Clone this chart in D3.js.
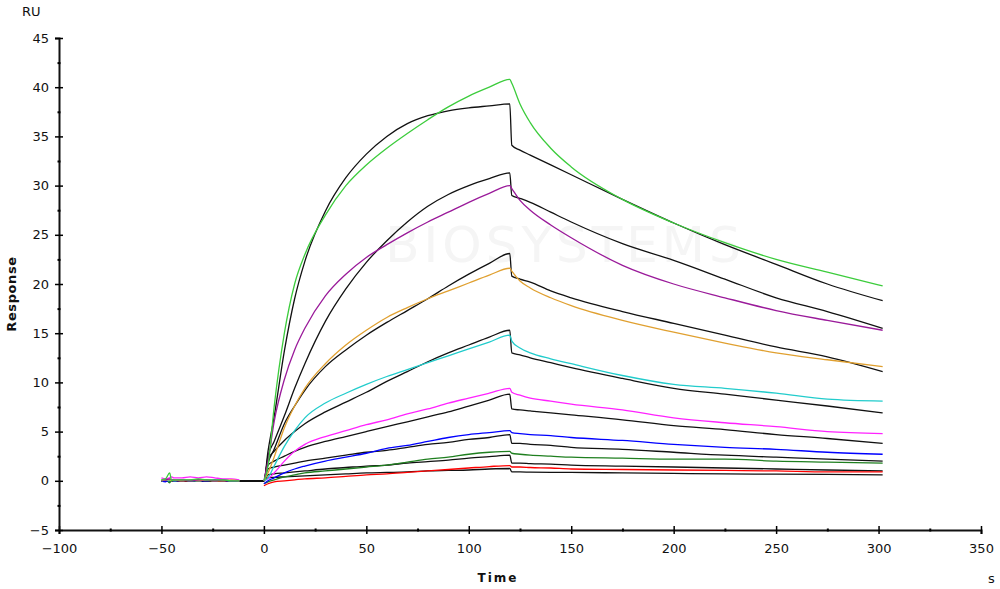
<!DOCTYPE html>
<html><head><meta charset="utf-8">
<script src="https://cdn.jsdelivr.net/npm/d3@7"></script>
<style>
body{margin:0;background:#fff}
svg{display:block}
text{font-family:"DejaVu Sans",Verdana,sans-serif}
</style></head>
<body><svg id="c" width="1000" height="589"></svg>
<script>
// ---------- DATA ----------
const xTicks = [-100,-50,0,50,100,150,200,250,300,350];
const yTicks = [-5,0,5,10,15,20,25,30,35,40,45];
const tBase  = [-50,-48,-46,-45,-44,-40,-36,-32,-28,-24,-20,-16,-12];
const tAssoc = [0,2,5,10,15,20,30,40,50,60,70,80,90,100,110,120];
const tDiss  = [121,125,130,140,150,175,200,225,250,275,302];

// measured responses (coloured)
const baseGreen   = [0.1,0.2,0.8,0.0,0.1,0.1,0.1,0.2,0.1,0.1,0.1,0.0,0.0];
const assocGreen  = [0,1.5,7.5,15.0,20.0,23.0,27.0,30.0,32.1,33.8,35.3,36.7,38.0,39.1,40.0,40.8];
const dissGreen   = [40.4,38.3,36.4,33.8,31.9,28.6,26.2,24.2,22.5,21.2,19.8];

const basePurple  = [0.1,0.1,0.2,0.1,0.1,0.1,0.0,0.1,0.1,0.0,0.1,0.0,0.0];
const assocPurple = [0,2.0,6.0,10.3,13.3,15.5,18.8,21.0,22.7,24.0,25.2,26.3,27.3,28.3,29.2,30.0];
const dissPurple  = [29.7,28.5,27.5,26.0,24.7,21.9,20.0,18.6,17.3,16.3,15.3];

const baseOrange  = [0.0,0.1,0.1,0.0,0.1,0.0,0.1,0.0,0.1,0.0,0.0,0.1,0.0];
const assocOrange = [0,0.8,2.4,5.4,7.6,9.4,11.9,13.8,15.3,16.6,17.6,18.5,19.3,20.1,20.9,21.6];
const dissOrange  = [21.3,20.3,19.6,18.6,17.8,16.3,15.1,14.0,13.0,12.3,11.6];

const baseCyan    = [0.0,0.1,0.0,0.1,0.0,0.1,0.0,0.0,0.1,0.0,0.1,0.0,0.0];
const assocCyan   = [0,0.3,1.5,3.5,5.1,6.4,7.9,8.9,9.8,10.6,11.3,12.0,12.7,13.4,14.1,14.8];
const dissCyan    = [14.2,13.5,13.0,12.4,11.9,10.7,9.8,9.4,8.9,8.3,8.1];

const baseMagenta = [0.3,0.2,0.3,0.4,0.3,0.3,0.4,0.3,0.4,0.3,0.2,0.2,0.1];
const assocMagenta= [0,0.2,0.8,2.0,3.0,3.7,4.5,5.1,5.7,6.2,6.8,7.3,7.9,8.4,8.9,9.4];
const dissMagenta = [9.0,8.7,8.4,8.1,7.8,7.2,6.4,5.9,5.5,5.0,4.8];

const baseBlue    = [0.0,-0.1,0.1,0.0,0.0,0.0,0.1,0.0,0.0,0.1,0.0,0.0,0.0];
const assocBlue   = [-0.3,0,0.3,0.8,1.2,1.5,2.0,2.4,2.8,3.3,3.6,4.0,4.4,4.7,4.9,5.1];
const dissBlue    = [4.9,4.8,4.7,4.6,4.4,4.1,3.7,3.4,3.2,2.9,2.7];

const baseDkGreen = [0.0,0.2,-0.2,0.1,0.0,0.1,0.0,0.1,0.0,0.0,0.1,0.0,0.0];
const assocDkGreen= [-0.3,-0.1,0.1,0.4,0.6,0.8,1.0,1.2,1.4,1.6,1.9,2.2,2.4,2.7,2.9,3.0];
const dissDkGreen = [2.8,2.7,2.6,2.5,2.4,2.3,2.2,2.2,2.0,1.9,1.8];

const baseRed     = [0.0,0.0,0.1,0.0,0.0,0.0,0.0,0.1,0.0,0.0,0.0,0.0,0.0];
const assocRed    = [-0.5,-0.3,-0.1,0.0,0.1,0.2,0.3,0.45,0.6,0.7,0.85,1.0,1.15,1.3,1.45,1.55];
const dissRed     = [1.4,1.4,1.35,1.3,1.2,1.15,1.1,1.05,1.0,0.9,0.9];

// fitted curves (black)
const fit1Assoc = [0,3.0,6.5,13.2,18.5,22.3,27.4,30.8,33.2,35.0,36.3,37.1,37.6,37.9,38.1,38.3];
const fit1Diss  = [34.1,33.6,33.1,32.1,31.1,28.6,26.2,24.0,22.0,20.0,18.3];
const fit2Assoc = [0,2.5,4.0,6.6,9.4,11.9,16.2,19.5,22.2,24.4,26.3,27.9,29.1,30.0,30.7,31.3];
const fit2Diss  = [29.0,28.7,28.3,27.3,26.3,24.1,22.4,20.5,18.6,17.2,15.5];
const fit3Assoc = [0,1.8,3.2,5.8,7.6,9.2,11.6,13.3,14.8,16.1,17.3,18.5,19.8,21.0,22.1,23.1];
const fit3Diss  = [20.8,20.5,20.2,19.3,18.6,17.2,16.0,14.8,13.6,12.6,11.1];
const fit4Assoc = [0,2.2,3.0,4.1,5.0,5.8,7.0,8.0,9.0,10.1,11.1,12.1,13.0,13.8,14.6,15.3];
const fit4Diss  = [13.0,12.8,12.5,12.0,11.5,10.4,9.4,8.8,8.2,7.6,6.9];
const fit5Assoc = [0,1.6,2.0,2.5,3.0,3.4,4.0,4.5,5.0,5.5,6.0,6.5,7.0,7.6,8.2,8.8];
const fit5Diss  = [7.3,7.2,7.1,6.9,6.7,6.2,5.6,5.2,4.7,4.3,3.8];
const fit6Assoc = [0,1.2,1.4,1.6,1.8,2.0,2.3,2.6,2.9,3.1,3.4,3.7,3.9,4.2,4.4,4.7];
const fit6Diss  = [3.8,3.8,3.7,3.6,3.4,3.2,2.9,2.6,2.4,2.2,2.0];
const fit7Assoc = [0,0.6,0.7,0.8,0.9,1.0,1.2,1.35,1.5,1.6,1.8,1.95,2.1,2.3,2.45,2.6];
const fit7Diss  = [1.8,1.8,1.75,1.7,1.6,1.5,1.4,1.3,1.2,1.1,1.0];
const fit8Assoc = [0,0.3,0.35,0.4,0.45,0.5,0.6,0.7,0.8,0.85,0.9,1.0,1.05,1.1,1.2,1.25];
const fit8Diss  = [0.9,0.9,0.88,0.86,0.85,0.8,0.75,0.7,0.68,0.65,0.6];

const measured = [
  {color:"#ff0000", base:baseRed, assoc:assocRed, diss:dissRed},
  {color:"#1f7f1f", base:baseDkGreen, assoc:assocDkGreen, diss:dissDkGreen},
  {color:"#0000ff", base:baseBlue, assoc:assocBlue, diss:dissBlue},
  {color:"#ff22ff", base:baseMagenta, assoc:assocMagenta, diss:dissMagenta},
  {color:"#22cccc", base:baseCyan, assoc:assocCyan, diss:dissCyan},
  {color:"#e0a030", base:baseOrange, assoc:assocOrange, diss:dissOrange},
  {color:"#9a1a9a", base:basePurple, assoc:assocPurple, diss:dissPurple},
  {color:"#3ccc3c", base:baseGreen, assoc:assocGreen, diss:dissGreen}
];
const fits = [
  [fit1Assoc,fit1Diss],[fit2Assoc,fit2Diss],[fit3Assoc,fit3Diss],[fit4Assoc,fit4Diss],
  [fit5Assoc,fit5Diss],[fit6Assoc,fit6Diss],[fit7Assoc,fit7Diss],[fit8Assoc,fit8Diss]
];

// ---------- CHART ----------
const svg = d3.select("#c");
const x = d3.scaleLinear().domain([-100,350]).range([59,981]);
const y = d3.scaleLinear().domain([-5,45]).range([530,38]);

// faint watermark
svg.append("text").attr("x",565).attr("y",262).attr("text-anchor","middle")
  .attr("font-size",50).attr("fill","#f5f5f5").attr("letter-spacing",4).text("BIOSYSTEMS");

const line = d3.line().x(d=>x(d[0])).y(d=>y(d[1])).curve(d3.curveMonotoneX);
const zip = (ts,vs)=>ts.map((t,i)=>[t,vs[i]]);

const plot = svg.append("g");
fits.forEach(f=>{
  const pts = [[-50,0]].concat(zip(tAssoc,f[0]), zip(tDiss,f[1]));
  plot.append("path").attr("d",line(pts)).attr("fill","none")
    .attr("stroke","#111").attr("stroke-width",1.3);
});
measured.forEach(m=>{
  plot.append("path").attr("d",line(zip(tBase,m.base))).attr("fill","none")
    .attr("stroke",m.color).attr("stroke-width",1.3);
  plot.append("path").attr("d",line(zip(tAssoc,m.assoc).concat(zip(tDiss,m.diss)))).attr("fill","none")
    .attr("stroke",m.color).attr("stroke-width",1.3);
});

// axes
const xAxis = svg.append("g").attr("transform","translate(0,530)")
  .call(d3.axisBottom(x).tickValues(xTicks).tickSize(4).tickPadding(10).tickFormat(d3.format("d")));
xAxis.selectAll(".tick line").attr("y1",-4).attr("y2",4).attr("stroke-width",1.5);
const xMinor = svg.append("g").attr("transform","translate(0,530)")
  .call(d3.axisBottom(x).tickValues(d3.range(-75,350,50)).tickSize(2).tickFormat(""));
xMinor.selectAll(".tick line").attr("y1",-1.5).attr("y2",1.5).attr("stroke-width",2);
xMinor.select(".domain").remove();

const yAxis = svg.append("g").attr("transform","translate(59,0)")
  .call(d3.axisLeft(y).tickValues(yTicks).tickSize(4).tickPadding(6).tickFormat(d3.format("d")));
yAxis.selectAll(".tick line").attr("x1",-4).attr("x2",4).attr("stroke-width",1.5);
const yMinor = svg.append("g").attr("transform","translate(59,0)")
  .call(d3.axisLeft(y).tickValues(d3.range(-2.5,45,5)).tickSize(2).tickFormat(""));
yMinor.selectAll(".tick line").attr("x1",-1.5).attr("x2",1.5).attr("stroke-width",2);
yMinor.select(".domain").remove();

[xAxis,yAxis].forEach(a=>{
  a.select(".domain").attr("stroke-width",2).attr("stroke","#111");
  a.selectAll("text").attr("font-size",13).attr("fill","#111")
   .attr("font-family","'DejaVu Sans',Verdana,sans-serif");
});

// labels
svg.append("text").attr("x",22).attr("y",16).attr("font-size",13).attr("fill","#111").text("RU");
svg.append("text").attr("x",988).attr("y",583).attr("font-size",13).attr("fill","#111").text("s");
svg.append("text").attr("x",498).attr("y",582).attr("text-anchor","middle")
  .attr("font-size",12).attr("font-weight","bold").attr("letter-spacing",2).attr("fill","#111").text("Time");
svg.append("text").attr("transform","translate(16,294) rotate(-90)").attr("text-anchor","middle")
  .attr("font-size",13).attr("font-weight","bold").attr("letter-spacing",0.6).attr("fill","#111").text("Response");
</script>
</body></html>
